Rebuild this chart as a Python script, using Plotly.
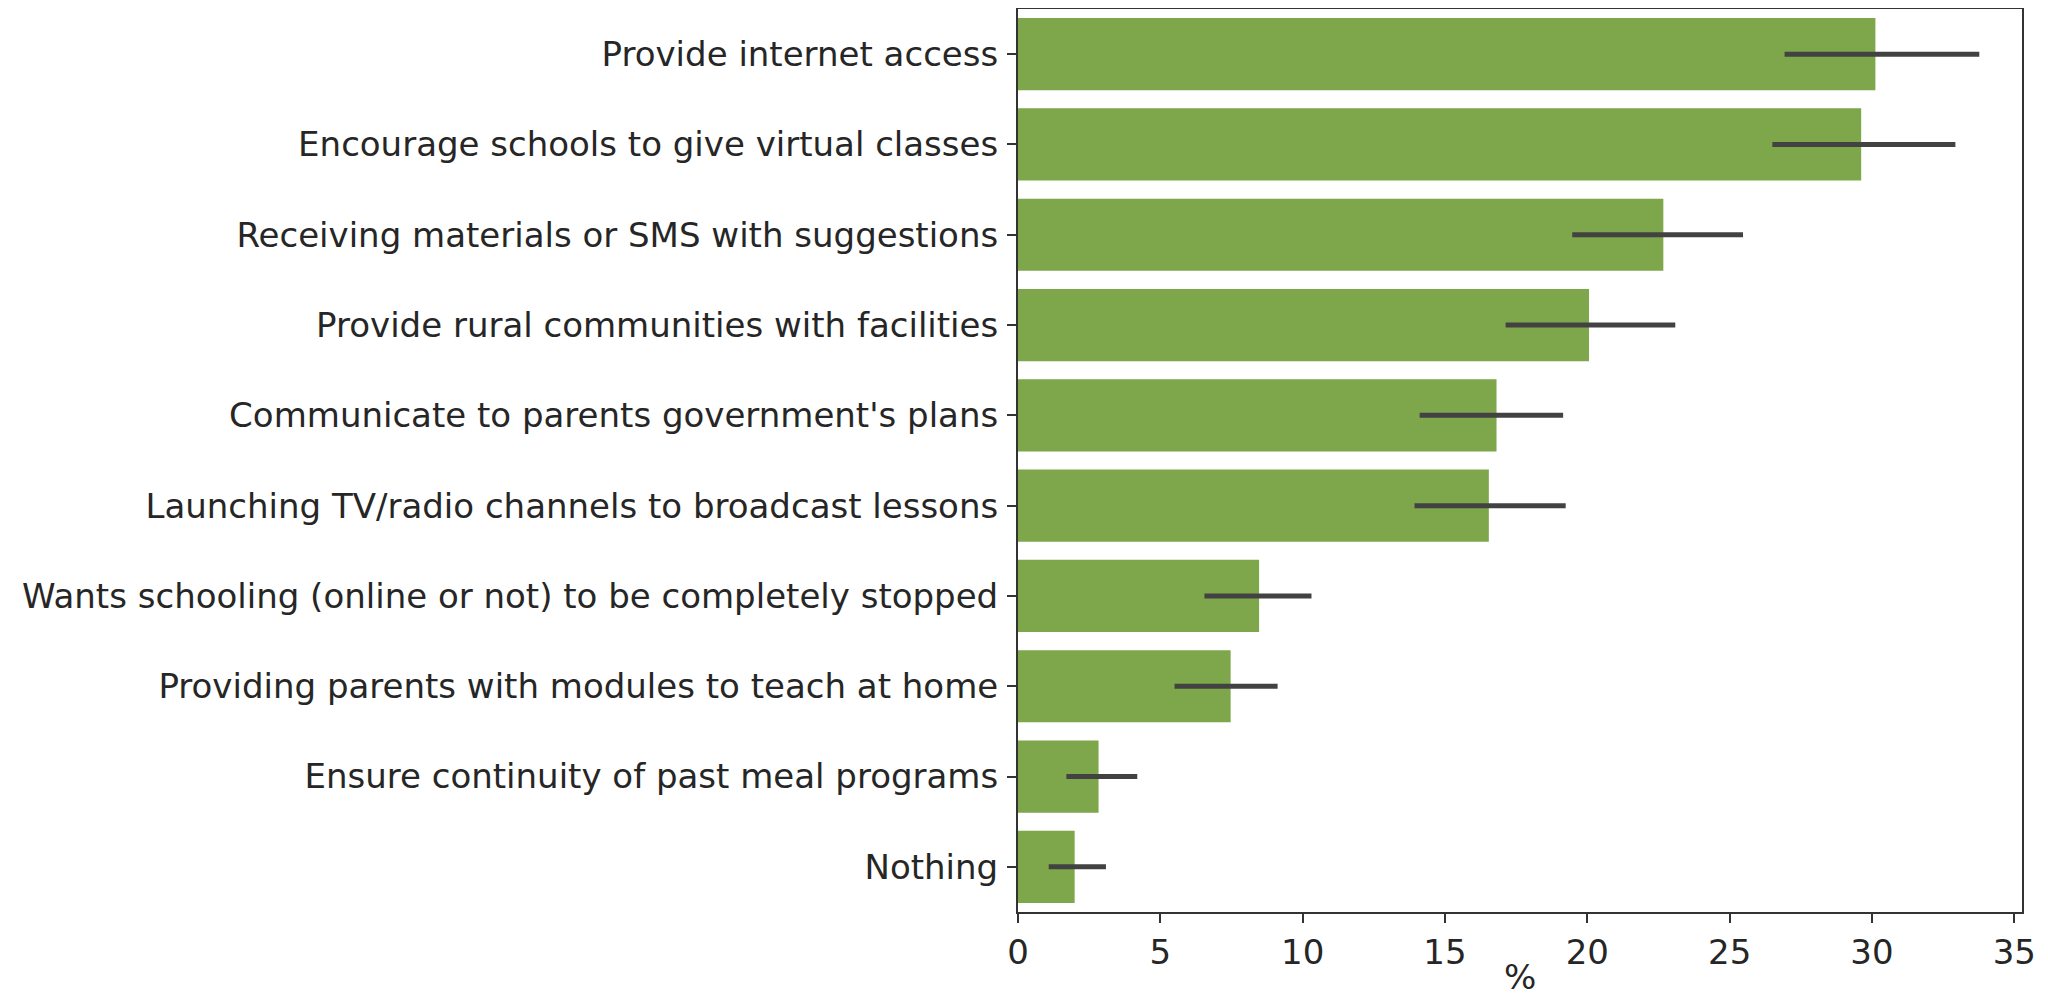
import plotly.graph_objects as go

categories = [
    "Provide internet access",
    "Encourage schools to give virtual classes",
    "Receiving materials or SMS with suggestions",
    "Provide rural communities with facilities",
    "Communicate to parents government's plans",
    "Launching TV/radio channels to broadcast lessons",
    "Wants schooling (online or not) to be completely stopped",
    "Providing parents with modules to teach at home",
    "Ensure continuity of past meal programs",
    "Nothing",
]
values = [30.12, 29.62, 22.67, 20.06, 16.81, 16.54, 8.47, 7.47, 2.83, 1.99]
ci_low = [26.93, 26.50, 19.47, 17.13, 14.11, 13.93, 6.55, 5.50, 1.70, 1.08]
ci_high = [33.77, 32.93, 25.47, 23.09, 19.15, 19.24, 10.31, 9.12, 4.19, 3.09]

err_plus = [h - v for h, v in zip(ci_high, values)]
err_minus = [v - l for v, l in zip(values, ci_low)]

font = "DejaVu Sans, sans-serif"

fig = go.Figure()
fig.add_trace(go.Bar(
    x=values,
    y=categories,
    orientation="h",
    marker=dict(color="rgb(126,166,74)", line=dict(width=0)),
    error_x=dict(
        type="data",
        symmetric=False,
        array=err_plus,
        arrayminus=err_minus,
        color="#424242",
        thickness=5,
        width=0,
    ),
    showlegend=False,
))

# page body adds an 8px offset, so the figure is 8px smaller than the window
fig.update_layout(
    width=2040,
    height=993,
    margin=dict(l=1010, r=26, t=1, b=89, autoexpand=False),
    paper_bgcolor="white",
    plot_bgcolor="white",
    bargap=0.2,
    font=dict(family=font, size=34, color="#262626"),
)

# x axis title placed as annotation so it sits where the reference has it
fig.add_annotation(
    text="%", xref="paper", yref="paper", x=0.5, y=0,
    xanchor="center", yanchor="middle", yshift=-65,
    showarrow=False, font=dict(size=34),
)

fig.update_xaxes(
    range=[0, 35.27],
    tickvals=[0, 5, 10, 15, 20, 25, 30, 35],
    ticks="outside",
    ticklen=9,
    tickwidth=2,
    tickcolor="#333333",
    ticklabelstandoff=0,
    showline=True,
    linecolor="#333333",
    linewidth=2,
    mirror=True,
    showgrid=False,
    zeroline=False,
)
fig.update_yaxes(
    type="category",
    range=[9.5, -0.5],
    ticks="outside",
    ticklen=9,
    tickwidth=2,
    tickcolor="#333333",
    ticklabelstandoff=2,
    showline=True,
    linecolor="#333333",
    linewidth=2,
    mirror=True,
    showgrid=False,
    zeroline=False,
)

fig.write_html("out.html")
